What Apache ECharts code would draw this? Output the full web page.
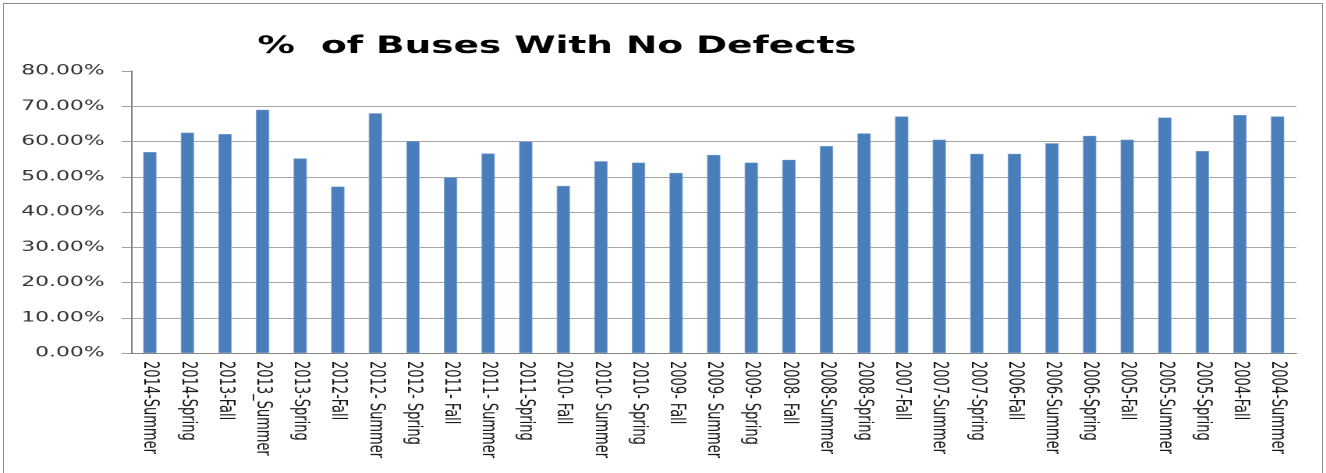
<!DOCTYPE html>
<html>
<head>
<meta charset="utf-8">
<script src="https://cdn.jsdelivr.net/npm/echarts@6/dist/echarts.min.js"></script>
<style>
html,body{margin:0;padding:0;background:#fff;overflow:hidden;width:1326px;height:473px;}
#frame{position:absolute;left:3px;top:3px;width:1318px;height:500px;border:1px solid #8c8c8c;border-bottom:none;}
#chart{position:absolute;left:0;top:0;width:850px;height:473px;transform:scaleX(1.56);transform-origin:0 0;}
</style>
</head>
<body>
<div id="frame"></div>
<div id="chart"></div>
<script>
const titleText = '%  of Buses With No Defects';
const categories = ['2014-Summer','2014-Spring','2013-Fall','2013_Summer','2013-Spring','2012-Fall','2012- Summer','2012- Spring','2011- Fall','2011- Summer','2011-Spring','2010- Fall','2010- Summer','2010- Spring','2009- Fall','2009- Summer','2009- Spring','2008- Fall','2008-Summer','2008-Spring','2007-Fall','2007-Summer','2007-Spring','2006-Fall','2006-Summer','2006-Spring','2005-Fall','2005-Summer','2005-Spring','2004-Fall','2004-Summer'];
const noDefectPct = [57.0,62.5,62.1,69.0,55.2,47.2,68.0,60.1,49.8,56.6,60.0,47.4,54.4,54.0,51.1,56.2,54.0,54.8,58.7,62.3,67.1,60.5,56.5,56.5,59.5,61.6,60.5,66.8,57.3,67.5,67.1];
const yMin = 0, yMax = 80, yStep = 10;

const chart = echarts.init(document.getElementById('chart'), null, {renderer:'canvas', devicePixelRatio:2});
chart.setOption({
  animation:false,
  title:{
    text:titleText, left:160, top:30,
    textStyle:{fontFamily:'DejaVu Sans', fontWeight:'bold', fontSize:24, color:'#000'}
  },
  grid:{left:84, right:19, top:71, bottom:120},
  xAxis:{
    type:'category', data:categories,
    axisLine:{lineStyle:{color:'#868686', width:1}},
    axisTick:{length:4, lineStyle:{color:'#868686'}},
    axisLabel:{rotate:-90, interval:0, fontFamily:'DejaVu Sans', fontSize:13, color:'#1a1a1a', margin:8}
  },
  yAxis:{
    type:'value', min:yMin, max:yMax, interval:yStep,
    axisLine:{show:true, lineStyle:{color:'#868686', width:1}},
    axisTick:{show:true, length:6, lineStyle:{color:'#a0a0a0'}},
    splitLine:{show:true, showMaxLine:false, lineStyle:{color:'#a6a6a6', width:1}},
    axisLabel:{formatter:v=>v.toFixed(2)+'%', fontFamily:'DejaVu Sans', fontSize:14, color:'#333', margin:17}
  },
  series:[{
    type:'bar', data:noDefectPct, barWidth:8.5,
    itemStyle:{color:'#4A7EBB', borderColor:'#7fa3d0', borderWidth:0.4}
  }]
});
</script>
</body>
</html>
